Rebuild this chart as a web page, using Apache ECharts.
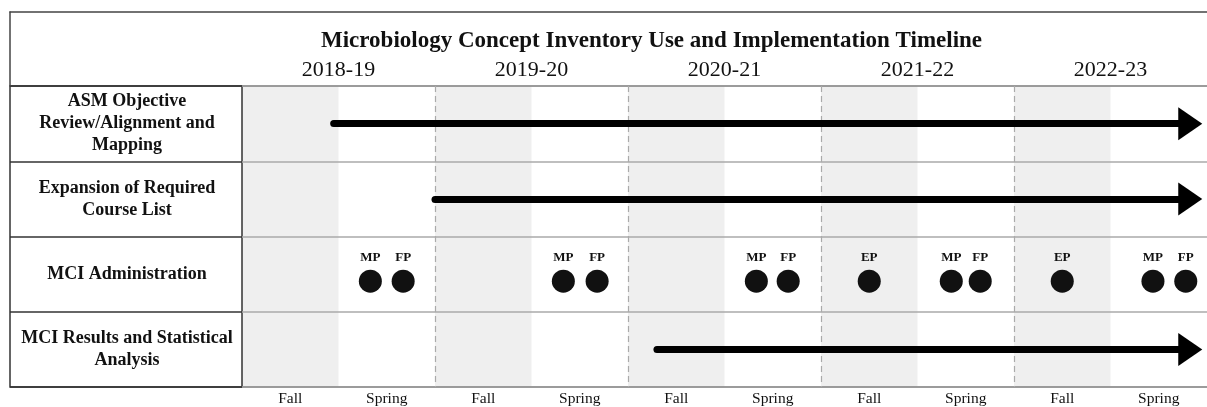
<!DOCTYPE html>
<html>
<head>
<meta charset="utf-8">
<script src="https://cdn.jsdelivr.net/npm/echarts@6/dist/echarts.min.js"></script>
<style>
  html, body { margin: 0; padding: 0; background: #fff; }
  #chart { width: 1207px; height: 407px; }
</style>
</head>
<body>
<div id="chart"></div>
<script>
// semesters on the time axis: 0 = Fall 2018 ... 9 = Spring 2023
var seasons = ['Fall', 'Spring', 'Fall', 'Spring', 'Fall', 'Spring', 'Fall', 'Spring', 'Fall', 'Spring'];
var years = ['2018-19', '2019-20', '2020-21', '2021-22', '2022-23'];
var rows = [
  'ASM Objective\nReview/Alignment and\nMapping',
  'Expansion of Required\nCourse List',
  'MCI Administration',
  'MCI Results and Statistical\nAnalysis'
];

// ongoing activities (arrows), start in semester units
var arrowRows = [0, 1, 3];
var arrowStarts = [0.95, 2.0, 4.3];
var arrowEnd = 9.78;

// MCI administrations
var adminX = [1.33, 1.67, 3.33, 3.68, 5.33, 5.66, 6.5, 7.35, 7.65, 8.5, 9.44, 9.78];
var adminTags = ['MP', 'FP', 'MP', 'FP', 'MP', 'FP', 'EP', 'MP', 'FP', 'EP', 'MP', 'FP'];

// shaded fall semesters and year dividers
var fallStarts = [0, 2, 4, 6, 8];
var yearBreaks = [2, 4, 6, 8];

var serif = '"Liberation Serif", "DejaVu Serif", serif';
// arrow head, pointing up (rotated along the line); the extra move keeps the box square
var headPath = 'path://M16.5 0 L33 24 L0 24 Z M0 33 L0 33';

var arrowData = arrowRows.map(function (r, i) {
  return { coords: [[arrowStarts[i], r], [arrowEnd, r]] };
});
var adminData = adminX.map(function (x, i) {
  return { name: adminTags[i], value: [x, 2] };
});

var frameLine = { show: true, onZero: false, lineStyle: { color: '#444', width: 1.5 } };

var chart = echarts.init(document.getElementById('chart'));
chart.setOption({
  animation: false,
  backgroundColor: '#fff',
  title: {
    text: 'Microbiology Concept Inventory Use and Implementation Timeline',
    left: 316,
    top: 25,
    textStyle: { fontFamily: serif, fontSize: 23, fontWeight: 'bold', color: '#111' }
  },
  grid: [
    { left: 242, right: 0, top: 86, bottom: 20 },
    { left: 10, width: 232, top: 86, bottom: 20, show: true, borderColor: '#333', borderWidth: 1.5 },
    { left: 10, right: 0, top: 12, height: 74 }
  ],
  xAxis: [
    {
      gridIndex: 0, type: 'category', position: 'bottom', data: seasons,
      axisLine: frameLine,
      axisTick: { show: false },
      axisLabel: { margin: 4, fontFamily: serif, fontSize: 15.5, color: '#111' }
    },
    {
      gridIndex: 0, type: 'category', position: 'top', data: years,
      axisLine: frameLine,
      axisTick: { show: false },
      axisLabel: { margin: 5, fontFamily: serif, fontSize: 22, color: '#111' }
    },
    { gridIndex: 0, type: 'value', position: 'bottom', min: 0, max: 10, show: false },
    { gridIndex: 1, type: 'value', show: false },
    {
      gridIndex: 2, type: 'value', position: 'top',
      axisLine: frameLine, axisTick: { show: false },
      axisLabel: { show: false }, splitLine: { show: false }
    }
  ],
  yAxis: [
    {
      gridIndex: 0, type: 'category', inverse: true, data: rows, z: 1,
      axisLine: { show: false },
      axisTick: { show: false },
      splitLine: { show: true, lineStyle: { color: '#aaa', width: 1.5 } },
      axisLabel: {
        align: 'center', margin: 115, fontFamily: serif, fontSize: 18,
        fontWeight: 'bold', lineHeight: 22, color: '#111'
      }
    },
    {
      gridIndex: 1, type: 'category', inverse: true, data: rows,
      axisLine: { show: false },
      axisTick: { show: false },
      axisLabel: { show: false },
      splitLine: { show: true, lineStyle: { color: '#333', width: 1.5 } }
    },
    {
      gridIndex: 2, type: 'value', position: 'left',
      axisLine: frameLine, axisTick: { show: false },
      axisLabel: { show: false }, splitLine: { show: false }
    }
  ],
  series: [
    {
      type: 'lines',
      coordinateSystem: 'cartesian2d',
      xAxisIndex: 2, yAxisIndex: 0,
      z: 3,
      silent: true,
      symbol: ['none', headPath],
      symbolSize: [0, 33],
      lineStyle: { color: '#000', width: 7, opacity: 1, cap: 'round' },
      data: arrowData,
      markArea: {
        z: -1,
        silent: true,
        itemStyle: { color: '#efefef' },
        data: fallStarts.map(function (s) { return [{ xAxis: s }, { xAxis: s + 1 }]; })
      },
      markLine: {
        z: 1,
        silent: true,
        symbol: 'none',
        label: { show: false },
        lineStyle: { color: '#aaa', type: [6, 4], width: 1.2 },
        data: yearBreaks.map(function (b) { return { xAxis: b }; })
      }
    },
    {
      type: 'scatter',
      xAxisIndex: 2, yAxisIndex: 0,
      z: 4,
      silent: true,
      symbolSize: 23,
      symbolOffset: [0, 7],
      itemStyle: { color: '#111', opacity: 1 },
      label: {
        show: true, position: 'top', distance: 5,
        formatter: '{b}',
        fontFamily: serif, fontSize: 13, fontWeight: 'bold', color: '#111'
      },
      data: adminData
    }
  ]
});
</script>
</body>
</html>
